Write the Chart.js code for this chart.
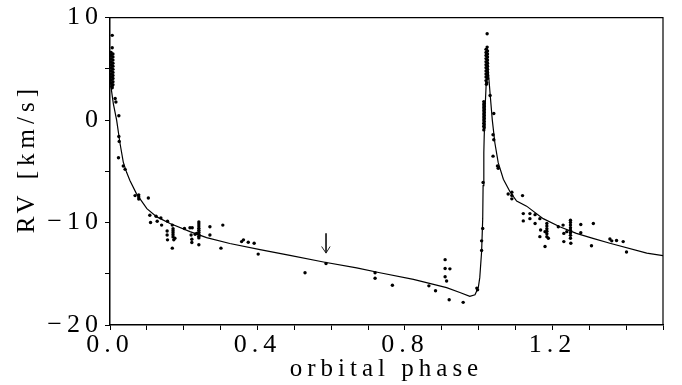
<!DOCTYPE html>
<html>
<head>
<meta charset="utf-8">
<script src="https://cdn.jsdelivr.net/npm/chart.js@4.4.1/dist/chart.umd.min.js"></script>
<style>
    html, body { margin: 0; padding: 0; background: #fff; }
    #wrap { width: 682px; height: 385px; }
</style>
</head>
<body>
<div id="wrap"><canvas id="rvChart"></canvas></div>
<script>
// Radial velocity curve, [phase, RV km/s]
const fitCurve = [
    [0.000, 4.6], [0.004, 2.9], [0.009, 1.61], [0.018, 0.0], [0.027, -2.24],
    [0.036, -4.1], [0.045, -5.1], [0.054, -5.9], [0.072, -7.2], [0.100, -8.65],
    [0.127, -9.45], [0.163, -10.10], [0.217, -10.89], [0.262, -11.47], [0.325, -12.05],
    [0.407, -12.65], [0.488, -13.20], [0.579, -13.85], [0.669, -14.42], [0.732, -14.90],
    [0.823, -15.54], [0.913, -16.35], [0.949, -16.83], [0.976, -17.21], [0.990, -17.05],
    [0.999, -16.35], [1.003, -15.38], [1.008, -12.82], [1.011, -9.62], [1.012, -6.40],
    [1.014, -3.20], [1.015, -1.60], [1.018, 1.61], [1.022, 4.81], [1.023, 7.06],
    [1.026, 4.81], [1.031, 2.57], [1.037, 0.0], [1.044, -2.24], [1.053, -4.16],
    [1.067, -5.77], [1.085, -7.0], [1.103, -7.9], [1.130, -8.4], [1.175, -9.62],
    [1.220, -10.41], [1.265, -11.06], [1.310, -11.54], [1.356, -12.02], [1.456, -12.98],
    [1.500, -13.23]
];

// measurements, first cycle up to phase ~0.4
const obsEarly = [
    [0.006, 8.27], [0.006, 7.06],
    [0.003, 6.6], [0.008, 6.45], [0.003, 6.3], [0.008, 6.15], [0.003, 6.0], [0.008, 5.85],
    [0.003, 5.7], [0.008, 5.55], [0.003, 5.4], [0.008, 5.25], [0.003, 5.1], [0.008, 4.95],
    [0.003, 4.8], [0.008, 4.65], [0.003, 4.5], [0.008, 4.35], [0.003, 4.2], [0.008, 4.05],
    [0.003, 3.9], [0.008, 3.75], [0.003, 3.6], [0.008, 3.45], [0.005, 3.3], [0.006, 3.15],
    [0.014, 2.1], [0.016, 1.77], [0.024, 0.42], [0.024, -1.6], [0.025, -2.08],
    [0.023, -3.68], [0.036, -4.48], [0.041, -4.81],
    [0.068, -7.37], [0.078, -7.3], [0.078, -7.5], [0.078, -7.7], [0.104, -7.6],
    [0.108, -9.29], [0.110, -10.0], [0.125, -9.39], [0.128, -9.87], [0.138, -9.55],
    [0.140, -10.25], [0.156, -9.87], [0.155, -10.83], [0.155, -11.21], [0.156, -11.69],
    [0.169, -10.25], [0.171, -10.6], [0.171, -10.8], [0.171, -11.0], [0.171, -11.2],
    [0.171, -11.4], [0.169, -12.5], [0.176, -11.54], [0.173, -11.69],
    [0.202, -10.58], [0.217, -10.51], [0.223, -10.51], [0.220, -11.21], [0.222, -11.63],
    [0.222, -11.95], [0.231, -11.15], [0.235, -11.06],
    [0.241, -9.94], [0.241, -10.15], [0.241, -10.35], [0.241, -10.55], [0.241, -10.75],
    [0.241, -10.95], [0.241, -11.15], [0.241, -11.35], [0.241, -11.5], [0.241, -12.17],
    [0.271, -10.41], [0.271, -11.21], [0.306, -10.25], [0.301, -12.5],
    [0.357, -11.86], [0.362, -11.69], [0.375, -11.92], [0.391, -12.02], [0.402, -13.08]
];

// measurements around the minimum and the rise
const obsMiddle = [
    [0.529, -14.9], [0.586, -14.0], [0.719, -14.9], [0.719, -15.44], [0.766, -16.12],
    [0.865, -16.18], [0.883, -16.66], [0.909, -13.62], [0.909, -14.48], [0.922, -14.52],
    [0.909, -15.29], [0.913, -15.7], [0.920, -17.53], [0.958, -17.79], [0.995, -16.4],
    [0.997, -16.57], [1.008, -12.72], [1.008, -11.79], [1.011, -10.58], [1.012, -6.09],
    [1.014, 1.8], [1.015, 1.65], [1.014, 1.5], [1.015, 1.35], [1.014, 1.2], [1.015, 1.05],
    [1.014, 0.9], [1.015, 0.75], [1.014, 0.6], [1.015, 0.45], [1.014, 0.3], [1.015, 0.15],
    [1.014, 0.0], [1.015, -0.15], [1.014, -0.3], [1.015, -0.45], [1.014, -0.6],
    [1.015, -0.75], [1.014, -0.96]
];

// repeated cycle past phase 1.0
const obsLate = [
    [1.023, 8.43], [1.023, 7.12],
    [1.020, 6.9], [1.024, 6.75], [1.020, 6.6], [1.024, 6.45], [1.020, 6.3], [1.024, 6.15],
    [1.020, 6.0], [1.024, 5.85], [1.020, 5.7], [1.024, 5.55], [1.020, 5.4], [1.024, 5.25],
    [1.020, 5.1], [1.024, 4.95], [1.020, 4.8], [1.024, 4.65], [1.020, 4.5], [1.024, 4.35],
    [1.020, 4.2], [1.024, 4.05], [1.020, 3.85], [1.022, 3.65], [1.021, 3.5],
    [1.031, 2.4], [1.041, 0.64], [1.039, -1.44], [1.041, -1.92], [1.039, -3.52],
    [1.051, -4.48], [1.053, -4.71], [1.080, -7.21], [1.090, -7.05], [1.090, -7.35],
    [1.090, -7.69], [1.119, -7.37], [1.121, -9.13], [1.121, -9.84], [1.139, -9.13],
    [1.139, -9.62], [1.153, -9.23], [1.153, -10.1], [1.166, -9.62], [1.168, -10.73],
    [1.166, -11.38], [1.180, -10.89], [1.185, -10.1], [1.185, -10.35], [1.185, -10.6],
    [1.185, -10.85], [1.185, -11.1], [1.185, -11.38], [1.180, -12.34], [1.189, -11.54],
    [1.216, -10.41], [1.229, -10.25], [1.231, -11.06], [1.231, -11.86], [1.239, -10.89],
    [1.249, -9.77], [1.249, -10.0], [1.249, -10.25], [1.249, -10.5], [1.249, -10.75],
    [1.249, -11.0], [1.249, -11.25], [1.249, -11.54], [1.250, -12.02],
    [1.277, -10.19], [1.277, -10.99], [1.306, -12.27], [1.311, -10.1], [1.356, -11.6],
    [1.361, -11.79], [1.374, -11.76], [1.392, -11.86], [1.401, -12.88]
];

// arrow over the point at phase ~0.59
const arrowShaft = [[0.586, -11.06], [0.586, -12.98]];
const arrowHead = [[0.574, -12.34], [0.586, -12.98], [0.597, -12.34]];

const xLabelTicks = [0, 0.4, 0.8, 1.2];
const yLabelTicks = [10, 0, -10, -20];

function toPoints(list) {
    return list.map(p => ({ x: p[0], y: p[1] }));
}

const serif = '"Liberation Serif", "DejaVu Serif", serif';

// wide letter spacing for all labels
const spacedText = {
    id: 'spacedText',
    beforeLayout(chart) { chart.ctx.letterSpacing = '5px'; },
    beforeDraw(chart) { chart.ctx.letterSpacing = '5px'; }
};

// top and right edges of the box
const frame = {
    id: 'frame',
    afterDatasetsDraw(chart) {
        const ctx = chart.ctx;
        const a = chart.chartArea;
        ctx.save();
        ctx.strokeStyle = '#000';
        ctx.lineWidth = 1.2;
        ctx.beginPath();
        ctx.moveTo(a.left, a.top);
        ctx.lineTo(a.right, a.top);
        ctx.lineTo(a.right, a.bottom);
        ctx.stroke();
        ctx.restore();
    }
};

// rotated y caption, sits a bit above the middle
const yCaption = {
    id: 'yCaption',
    afterDraw(chart) {
        const ctx = chart.ctx;
        const a = chart.chartArea;
        ctx.save();
        ctx.letterSpacing = '5px';
        ctx.font = '25px ' + serif;
        ctx.fillStyle = '#000';
        ctx.textAlign = 'center';
        ctx.textBaseline = 'alphabetic';
        ctx.translate(a.left - 76, a.top + 141);
        ctx.rotate(-Math.PI / 2);
        ctx.fillText('RV [km/s]', 0, 0);
        ctx.restore();
    }
};

const config = {
    type: 'scatter',
    data: {
        datasets: [
            {
                data: toPoints(fitCurve),
                showLine: true,
                borderColor: '#000',
                borderWidth: 1.2,
                pointRadius: 0,
                tension: 0
            },
            {
                data: toPoints(obsEarly.concat(obsMiddle, obsLate)),
                backgroundColor: '#000',
                borderWidth: 0,
                pointRadius: 1.7
            },
            {
                data: toPoints(arrowShaft),
                showLine: true,
                borderColor: '#222',
                borderWidth: 1,
                pointRadius: 0
            },
            {
                data: toPoints(arrowHead),
                showLine: true,
                borderColor: '#222',
                borderWidth: 1,
                pointRadius: 0
            }
        ]
    },
    options: {
        responsive: true,
        maintainAspectRatio: false,
        animation: false,
        devicePixelRatio: 1,
        layout: { padding: { top: 13, right: 19, left: 0, bottom: 0 } },
        plugins: {
            legend: { display: false },
            tooltip: { enabled: false }
        },
        scales: {
            x: {
                type: 'linear',
                min: 0,
                max: 1.5,
                afterFit(scale) { scale.height = 60; },
                border: { display: true, color: '#000', width: 1.5 },
                grid: {
                    drawOnChartArea: false,
                    drawTicks: true,
                    tickLength: 5,
                    tickColor: '#000',
                    tickWidth: 1
                },
                ticks: {
                    stepSize: 0.1,
                    autoSkip: false,
                    maxRotation: 0,
                    padding: 0,
                    color: '#000',
                    font: { family: serif, size: 26 },
                    callback: v => xLabelTicks.some(t => Math.abs(t - v) < 1e-6) ? v.toFixed(1) : ''
                },
                title: {
                    display: true,
                    text: 'orbital phase',
                    color: '#000',
                    font: { family: serif, size: 25 },
                    padding: { top: 0, bottom: 1 }
                }
            },
            y: {
                min: -20,
                max: 10,
                afterFit(scale) { scale.width = 110; },
                border: { display: true, color: '#000', width: 1.5 },
                grid: {
                    drawOnChartArea: false,
                    drawTicks: true,
                    tickLength: 5,
                    tickColor: '#000',
                    tickWidth: 1
                },
                ticks: {
                    stepSize: 5,
                    padding: 2,
                    color: '#000',
                    font: { family: serif, size: 26 },
                    callback: v => yLabelTicks.includes(v) ? String(v).replace('-', '\u2212') : ''
                }
            }
        }
    },
    plugins: [spacedText, frame, yCaption]
};

new Chart(document.getElementById('rvChart'), config);
</script>
</body>
</html>
